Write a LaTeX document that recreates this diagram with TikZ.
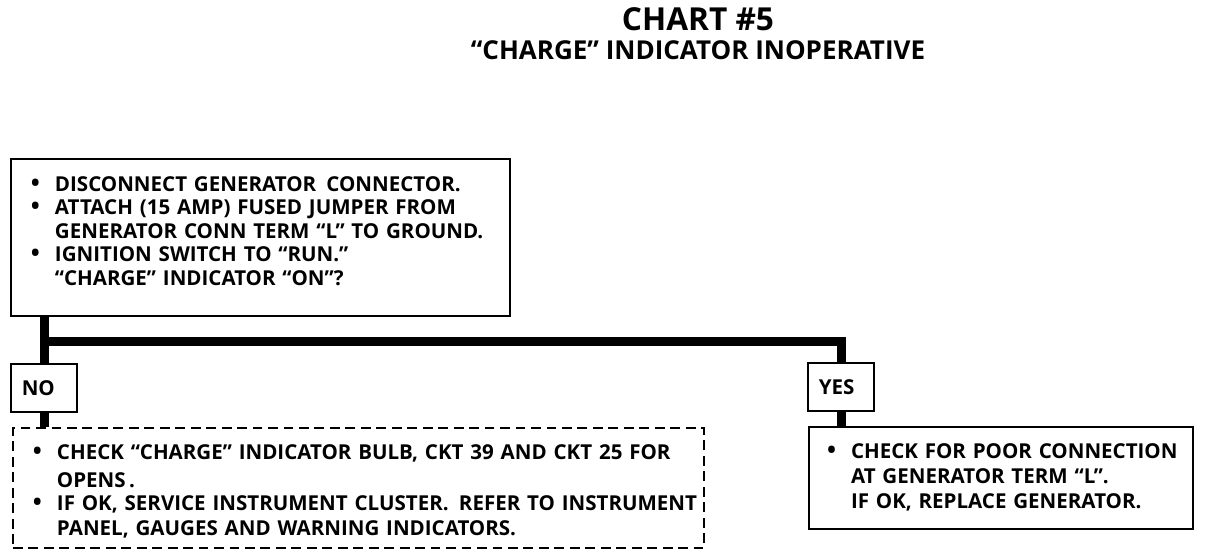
\documentclass[tikz,border=0pt]{standalone}
\usepackage{fontspec}
\setmainfont{Open Sans}
\usetikzlibrary{positioning}

\tikzset{
    stepbox/.style={draw, line width=1.4pt, anchor=north west, align=left,
        font=\bfseries\fontsize{14.6}{16.2}\selectfont},
    answer/.style={draw, line width=1.4pt, anchor=north west, text width=1.1cm,
        inner xsep=0.27cm, minimum height=1.2cm, align=left,
        font=\bfseries\fontsize{14.6}{16.2}\selectfont},
    flow/.style={line width=6.4pt, line join=miter}
}
\newcommand{\bulline}[1]{\mbox{\makebox[0.6cm][l]{\fontsize{17}{17}\selectfont\textbullet}#1}}
\newcommand{\indline}[1]{\mbox{\hspace*{0.6cm}#1}}

\begin{document}
\begin{tikzpicture}[x=0.025cm, y=-0.025cm]
        \useasboundingbox (0,0) rectangle (1216,556);

        % Titulek
        \node[font=\bfseries\fontsize{22.5}{26}\selectfont] (chart) at (698,19) {CHART \#5};
        \node[font=\bfseries\fontsize{18.5}{21}\selectfont] (title) at (698,50) {“CHARGE” INDICATOR INOPERATIVE};

        % Úvodní krok
        \node[stepbox, text width=11.475cm, inner xsep=0.5cm, minimum height=3.925cm] (start) at (10,158)
            {\bulline{DISCONNECT GENERATOR\, CONNECTOR.}\\[-0.5pt]
             \bulline{ATTACH (15 AMP) FUSED JUMPER FROM}\\[1.5pt]
             \indline{GENERATOR CONN TERM “L” TO GROUND.}\\
             \bulline{IGNITION SWITCH TO “RUN.”}\\[1pt]
             \indline{“CHARGE” INDICATOR “ON”?}\rule[-0.3cm]{0pt}{0pt}};

        % Odpovědi
        \node[answer] (no) at (10,363) {NO};
        \node[answer] (yes) at (807,362) {YES};

        % Další kroky
        \node[stepbox, dashed, dash pattern=on 7pt off 4pt, text width=16.275cm, inner xsep=0.5cm,
              minimum height=3cm] (fixno) at (12,427)
            {\bulline{CHECK “CHARGE” INDICATOR BULB, CKT 39 AND CKT 25 FOR}\rule{0pt}{0.55cm}\\[3.5pt]
             \indline{OPENS\,.}\\
             \bulline{IF OK, SERVICE INSTRUMENT CLUSTER.\, REFER TO INSTRUMENT}\\[1.5pt]
             \indline{PANEL, GAUGES AND WARNING INDICATORS.}};
        \node[stepbox, text width=8.7cm, inner xsep=0.45cm, minimum height=2.55cm] (fixyes) at (808,426)
            {\bulline{CHECK FOR POOR CONNECTION}\\[1.5pt]
             \indline{AT GENERATOR TERM “L”.}\\[1.5pt]
             \indline{IF OK, REPLACE GENERATOR.}\rule[-0.1cm]{0pt}{0pt}};

        % Spojnice
        \coordinate (split) at (44,342);
        \coordinate (turn) at (841,342);
        \draw[flow] (start.south -| split) -- (no.north -| split);
        \draw[flow] (split) -- (turn) -- (yes.north -| turn);
        \draw[flow] (no.south -| split) -- (fixno.north -| split);
        \draw[flow] (yes.south -| turn) -- (fixyes.north -| turn);
    \end{tikzpicture}
\end{document}
